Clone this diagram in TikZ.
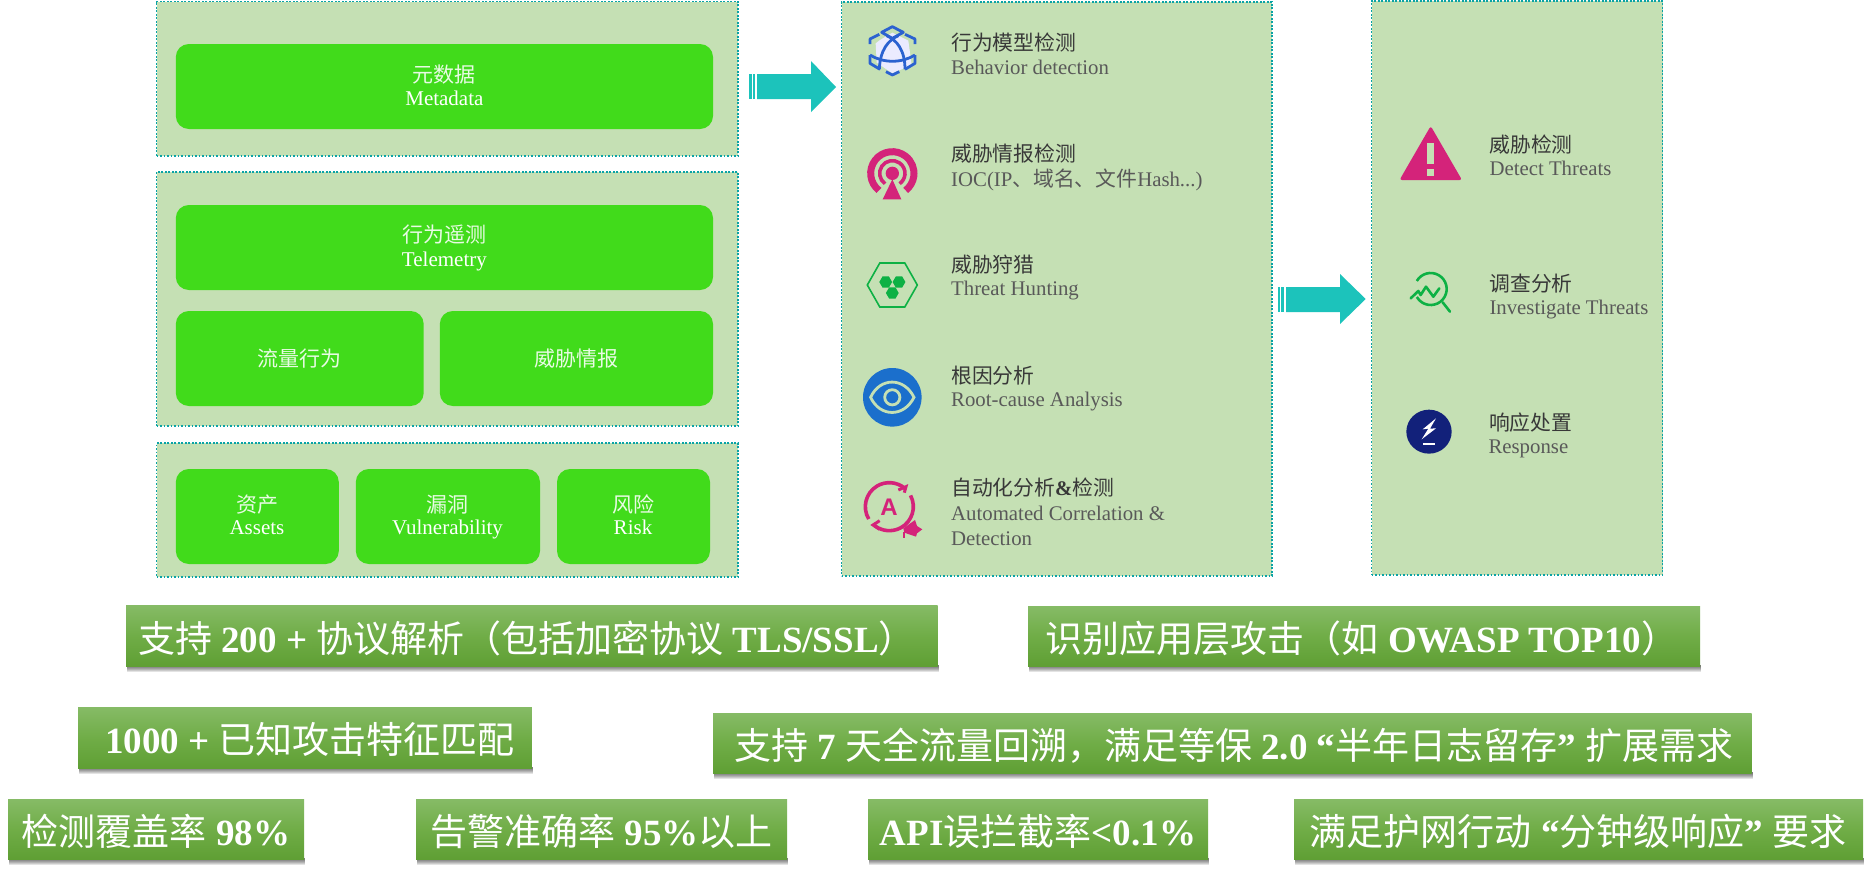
\documentclass[tikz,border=0pt]{standalone}
\usepackage{fontspec}
\setmainfont{Liberation Serif}
\newfontfamily\cjk{Noto Sans CJK SC}
\newfontfamily\asans{Liberation Sans}
\usetikzlibrary{shapes.geometric}
\definecolor{panelfill}{HTML}{C5E0B4}
\definecolor{paneledge}{HTML}{0AA3A5}
\definecolor{pillfill}{HTML}{41DB1B}
\definecolor{arrowc}{HTML}{1CC3BB}
\definecolor{boxtop}{HTML}{86BB66}
\definecolor{boxmid}{HTML}{70AD47}
\definecolor{boxbot}{HTML}{5F9F34}
\definecolor{greyt}{HTML}{595959}
\definecolor{magentaic}{HTML}{D4237A}
\definecolor{blueic}{HTML}{2B62D0}
\definecolor{blueic2}{HTML}{1B6FCC}
\definecolor{greenic}{HTML}{0DB144}
\definecolor{navyic}{HTML}{12217A}
\newcommand{\C}[1]{{\cjk\mdseries #1}}
\newcommand{\CW}[1]{{\cjk\color{white!88!pillfill}#1}}
\newcommand{\fs}[1]{\fontsize{#1}{#1}\selectfont}
\newcommand{\bx}[7][]{%
  \pgfmathsetmacro{\bw}{#5-#3}\pgfmathsetmacro{\bh}{#6-#4}%
  \pgfmathsetmacro{\bcx}{(#5+#3)/2}\pgfmathsetmacro{\bcy}{(#6+#4)/2}%
  \node[#1,minimum width=\bw pt,minimum height=\bh pt] (#2) at (\bcx,\bcy) {#7};}
\newcommand{\gb}[5]{%
  \foreach \d in {1,2,3,4,5,6}{\fill[black,opacity=.11] (#2+1,#5-1) rectangle (#4+1,#5+\d);}%
  \bx[gbox]{#1}{#2}{#3}{#4}{#5}{}}
\tikzset{
  panel/.style={fill=panelfill,draw=paneledge,line width=1.5pt,dash pattern=on 1.8pt off 1.7pt,inner sep=0pt,outer sep=0pt},
  pill/.style={fill=pillfill,rounded corners=13pt,inner sep=0pt,outer sep=0pt},
  gbox/.style={top color=boxtop,bottom color=boxbot,middle color=boxmid,inner sep=0pt,outer sep=0pt},
  wt/.style={anchor=base,inner sep=0pt,text=white,font=\fs{21}},
  ht/.style={anchor=base west,inner sep=0pt,text=black!78,font=\cjk\fs{20.8}},
  et/.style={anchor=base west,inner sep=0pt,text=greyt,font=\fs{20.8}},
  bt/.style={anchor=base,inner sep=0pt,text=white,font=\bfseries\fs{37}},
  block/.style={fill=arrowc},
  hexb/.style={regular polygon,regular polygon sides=6,fill=greenic,minimum size=12.8pt,inner sep=0pt},
  iconpx/.style={x=.3333pt,y=-.3333pt}
}
\begin{document}
\begin{tikzpicture}[x=1pt,y=-1pt]
\fill[white] (0,0) rectangle (1872,871);
\useasboundingbox (0,0) rectangle (1872,871);
% panels
\bx[panel]{pa}{156.5}{1.5}{738}{156}{}
\bx[panel]{pb}{156.5}{172}{738}{426}{}
\bx[panel]{pc}{156.5}{443}{738}{577}{}
\bx[panel]{pd}{841.5}{2}{1272}{576}{}
\bx[panel]{pe}{1371.5}{1}{1662.5}{575}{}
% pills
\bx[pill]{m1}{175.8}{44}{713}{129}{}
\bx[pill]{m2}{175.8}{205}{713}{290}{}
\bx[pill]{m3}{175.8}{311}{423.7}{406}{}
\bx[pill]{m4}{439.8}{311}{713}{406}{}
\bx[pill]{m5}{175.8}{469}{338.8}{564}{}
\bx[pill]{m6}{355.8}{469}{540}{564}{}
\bx[pill]{m7}{557}{469}{710}{564}{}
\node[wt] (w1a) at (444.4,82) {\CW{元数据}};
\node[wt] (w1b) at (444.4,105) {Metadata};
\node[wt] (w2a) at (444.4,242.5) {\CW{行为遥测}};
\node[wt] (w2b) at (444.4,266) {Telemetry};
\node[wt] (w3) at (299.3,366) {\CW{流量行为}};
\node[wt] (w4) at (576.6,366) {\CW{威胁情报}};
\node[wt] (w5a) at (257,512) {\CW{资产}};
\node[wt] (w5b) at (257,534.5) {Assets};
\node[wt] (w6a) at (447.6,512) {\CW{漏洞}};
\node[wt] (w6b) at (447.6,534.5) {Vulnerability};
\node[wt] (w7a) at (633,512) {\CW{风险}};
\node[wt] (w7b) at (633,534.5) {Risk};
% block arrows
\fill[block] (757,74) -- (811,74) -- (811,61) -- (836,87) -- (811,112) -- (811,99) -- (757,99) -- cycle;
\fill[block] (749,74) rectangle (751.6,99);
\fill[block] (752.6,74) rectangle (755.4,99);
\fill[block] (1286,287) -- (1340,287) -- (1340,274) -- (1365.7,299) -- (1340,324) -- (1340,312) -- (1286,312) -- cycle;
\fill[block] (1278,287) rectangle (1280,312);
\fill[block] (1280.8,287) rectangle (1284,312);
% middle texts
\node[ht] (t1a) at (951,50) {行为模型检测};
\node[et] (t1b) at (951,74) {Behavior detection};
\node[ht] (t2a) at (951,161.5) {威胁情报检测};
\node[et] (t2b) at (951,186) {IOC(IP\C{、域名、文件}Hash...)};
\node[ht] (t3a) at (951,272) {威胁狩猎};
\node[et] (t3b) at (951,295) {Threat Hunting};
\node[ht] (t4a) at (951,383) {根因分析};
\node[et] (t4b) at (951,406) {Root-cause Analysis};
\node[ht] (t5a) at (951,495.5) {自动化分析{\fontspec{Liberation Serif}\bfseries\&}检测};
\node[et] (t5b) at (951,520) {Automated Correlation \&};
\node[et] (t5c) at (951,545) {Detection};
% right texts
\node[ht] (r1a) at (1489.3,152) {威胁检测};
\node[et] (r1b) at (1489.3,175.5) {Detect Threats};
\node[ht] (r2a) at (1489.3,291) {调查分析};
\node[et] (r2b) at (1489.3,314) {Investigate Threats};
\node[ht] (r3a) at (1488.8,430) {响应处置};
\node[et] (r3b) at (1488.3,453) {Response};
% cube icon
\begin{scope}[shift={(860,20)},iconpx]
\fill[blue!8!white] (47,70) -- (60,60) -- (97,38) -- (145,62) -- (155,135) -- (97,160) -- (50,128) -- cycle;
\begin{scope}[draw=blueic,line width=2.8pt,line join=round]
\draw (30,72) -- (30,57) -- (58,43);
\draw (135,43) -- (165,57) -- (165,72);
\draw (30,105) -- (30,130) -- (60,148);
\draw (135,148) -- (165,130) -- (165,105);
\draw (78,155) -- (97,165) -- (118,155);
\draw (97,20) -- (130,37) -- (97,55) -- (65,37) -- cycle;
\draw (30,105) .. controls (70,130) and (125,130) .. (165,105);
\draw (115,47) .. controls (85,60) and (60,90) .. (58,148);
\draw (80,47) .. controls (110,60) and (135,90) .. (135,148);
\end{scope}
\end{scope}
% antenna icon
\begin{scope}[shift={(860,140)},iconpx]
\draw[magentaic,line width=7pt] (97,100) ++(128:65) arc[start angle=128,end angle=412,radius=65];
\draw[magentaic,line width=3.6pt] (97,100) ++(125:38) arc[start angle=125,end angle=415,radius=38];
\fill[magentaic] (97,100) circle[radius=20];
\fill[magentaic] (97,118) -- (124,178) -- (68,178) -- cycle;
\end{scope}
% hunting icon
\draw[greenic,line width=1.6pt] (867.3,285) -- (879.8,263) -- (904.8,263) -- (917.3,285) -- (904.8,307) -- (879.8,307) -- cycle;
\node[hexb] (hx1) at (885.7,282) {};
\node[hexb] (hx2) at (899,282) {};
\node[hexb] (hx3) at (892.3,293) {};
% eye icon
\fill[blueic2] (892.3,397.3) circle[radius=29.3];
\draw[panelfill,line width=2.8pt] (870.6,397.3) .. controls (880,377) and (904,377) .. (914,397.3) .. controls (904,417.5) and (880,417.5) .. (870.6,397.3) -- cycle;
\draw[panelfill,line width=2.8pt] (892.3,397.3) circle[radius=7.6];
% automation icon
\begin{scope}[shift={(855,470)},iconpx]
\draw[magentaic,line width=3.6pt] (103,110) ++(149:72) arc[start angle=149,end angle=310,radius=72];
\draw[magentaic,line width=3.6pt] (103,110) ++(332:72) arc[start angle=332,end angle=488,radius=72];
\draw[magentaic,line width=3pt] (130,60) -- (153,50) -- (148,68);
\draw[magentaic,line width=3pt] (74,152) -- (54,165) -- (74,178);
\fill[magentaic] (145,175) -- (180,150) -- (186,168) -- (202,178) -- (186,190) -- (183,200) -- (148,188) -- cycle;
\draw[magentaic,line width=2pt] (148,185) -- (148,205);
\node[inner sep=0pt,text=magentaic,font=\asans\bfseries\fs{24}] (auA) at (102,112) {A};
\end{scope}
% warning icon
\fill[magentaic,rounded corners=2.5pt] (1430.7,126) -- (1462,180) -- (1399.5,180) -- cycle;
\fill[panelfill] (1427.3,143) rectangle (1434,163.5);
\fill[panelfill] (1427.3,169) rectangle (1434,175.6);
% investigate icon
\begin{scope}[shift={(1400,265)},iconpx]
\draw[greenic,line width=2.6pt] (92,72) ++(210:48) arc[start angle=210,end angle=510,radius=48];
\draw[greenic,line width=2.6pt,line cap=round] (128,112) -- (150,140);
\draw[greenic,line width=2.6pt,line join=round,line cap=round] (32,100) -- (55,78) -- (62,90) -- (78,65) -- (100,95) -- (118,70);
\end{scope}
% response icon
\begin{scope}[shift={(1400,400)},iconpx]
\fill[navyic] (87,95) ellipse[x radius=68,y radius=66];
\fill[white] (108,55) -- (68,88) -- (85,86) -- (65,118) -- (108,85) -- (90,86) -- cycle;
\draw[white,line width=1.7pt] (70,132) -- (105,132);
\end{scope}
% bottom boxes
\gb{b1}{126}{605}{937.7}{666}
\gb{b2}{78}{707}{531.8}{768}
\gb{b3}{8}{799.3}{304}{859}
\gb{b4}{416}{799.3}{787}{859}
\gb{b5}{868}{799.3}{1208}{859}
\gb{b6}{1294}{799.3}{1863}{859}
\gb{b7}{713}{713}{1751.6}{773}
\gb{b8}{1028}{606}{1700}{666}
\node[bt] (bt1) at (527,652.5) {\C{支持} 200 + \C{协议解析（包括加密协议} TLS/SSL\C{）}};
\node[bt] (bt2) at (310,753) {1000 + \C{已知攻击特征匹配}};
\node[bt] (bt3) at (156,845.5) {\C{检测覆盖率} 98\%};
\node[bt] (bt4) at (601.5,845.5) {\C{告警准确率} 95\%\C{以上}};
\node[bt] (bt5) at (1038,845.5) {API\C{误拦截率}<0.1\%};
\node[bt] (bt6) at (1578,845.5) {\C{满足护网行动} “\C{分钟级响应}” \C{要求}};
\node[bt] (bt7) at (1233.5,759.5) {\C{支持} 7 \C{天全流量回溯，满足等保} 2.0 “\C{半年日志留存}” \C{扩展需求}};
\node[bt] (bt8) at (1362,652.5) {\C{识别应用层攻击（如} OWASP TOP10\C{）}};
\end{tikzpicture}
\end{document}
